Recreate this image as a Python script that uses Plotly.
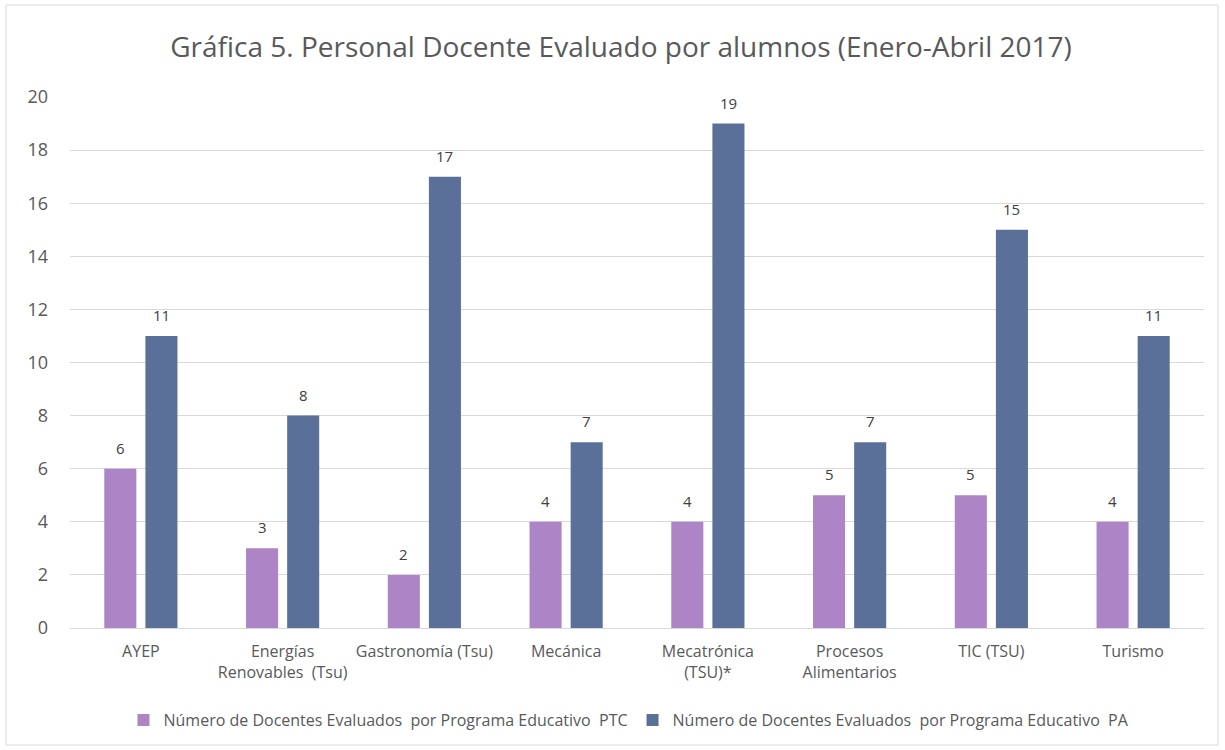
import plotly.graph_objects as go

categories = ["AYEP", "Energías<br>Renovables  (Tsu)", "Gastronomía (Tsu)", "Mecánica",
              "Mecatrónica<br>(TSU)*", "Procesos<br>Alimentarios", "TIC (TSU)", "Turismo"]
ptc = [6, 3, 2, 4, 4, 5, 5, 4]
pa = [11, 8, 17, 7, 19, 7, 15, 11]
series_names = ["Número de Docentes Evaluados  por Programa Educativo  PTC",
                "Número de Docentes Evaluados  por Programa Educativo  PA"]
colors = ["#AD84C6", "#5B7099"]
y_ticks = [0, 2, 4, 6, 8, 10, 12, 14, 16, 18, 20]

FONT = "Open Sans"
W, H = 1225, 750
ml, mr, mt, mb = 70, 21, 97, 122

fig = go.Figure()
for name, vals, col in zip(series_names, [ptc, pa], colors):
    fig.add_trace(go.Bar(x=categories, y=vals, name=name, marker_color=col,
                         marker_line_width=0))

annotations = []
for vals, shift in zip([ptc, pa], [-20.5, 20.5]):
    for c, v in zip(categories, vals):
        annotations.append(dict(x=c, y=v, xref="x", yref="y", text=str(v), showarrow=False,
                                xshift=shift, yshift=21, yanchor="middle",
                                font=dict(size=15, color="#404040", family=FONT)))

fig.update_layout(
    width=W, height=H,
    margin=dict(l=ml, r=mr, t=mt, b=mb),
    paper_bgcolor="white", plot_bgcolor="white",
    font=dict(family=FONT, color="#595959"),
    title=dict(text="Gráfica 5. Personal Docente Evaluado por alumnos (Enero-Abril 2017)",
               x=621 / W, xanchor="center", y=1 - 47 / H, yanchor="middle",
               font=dict(size=28, color="#595959", family=FONT)),
    barmode="group", bargap=0.42, bargroupgap=0.22,
    showlegend=True,
    legend=dict(orientation="h", x=(629 - ml) / (W - ml - mr), xanchor="center",
                y=-(720 - (H - mb)) / (H - mt - mb), yanchor="middle",
                font=dict(size=16, color="#595959", family=FONT),
                itemwidth=30, traceorder="normal"),
    xaxis=dict(showgrid=False, showline=True, linecolor="#D9D9D9", ticks="",
               ticklabelstandoff=9, tickangle=0, automargin=False,
               tickfont=dict(size=16, color="#595959", family=FONT)),
    yaxis=dict(range=[0, 20], tickvals=y_ticks, showgrid=True, gridcolor="#D9D9D9",
               zeroline=False, showline=False, ticks="", ticklabelstandoff=21,
               automargin=False,
               tickfont=dict(size=18, color="#595959", family=FONT)),
    annotations=annotations,
    shapes=[dict(type="rect", xref="paper", yref="paper",
                 x0=(6 - ml) / (W - ml - mr), x1=(1218 - ml) / (W - ml - mr),
                 y0=-(745 - (H - mb)) / (H - mt - mb), y1=1 + (mt - 5) / (H - mt - mb),
                 line=dict(color="#D9D9D9", width=1), layer="below")],
)
fig.write_html("out.html", config={"displayModeBar": False},
               post_script="document.body.style.margin='0';")
